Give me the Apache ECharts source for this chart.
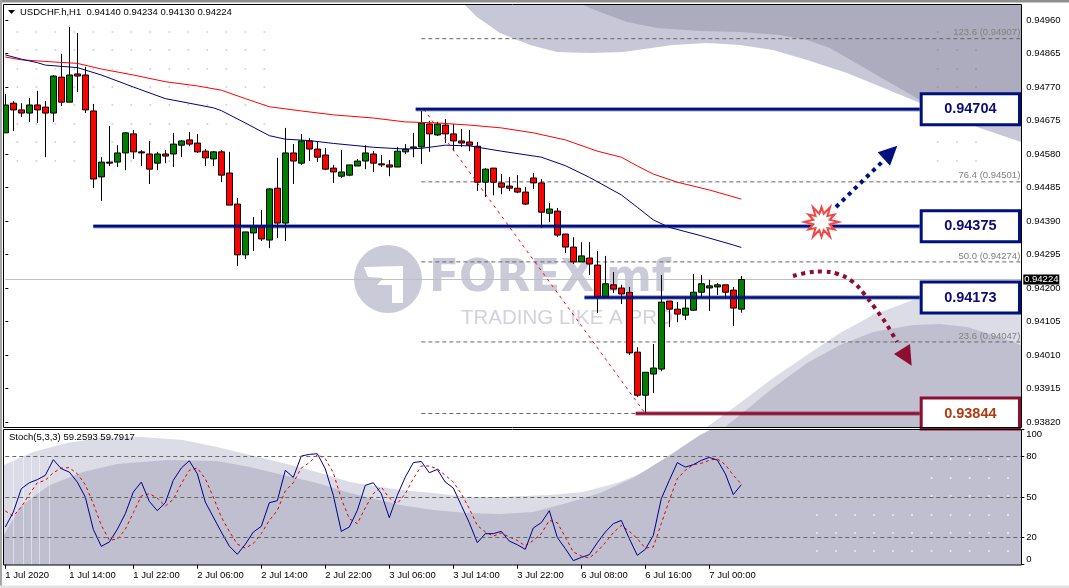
<!DOCTYPE html>
<html><head><meta charset="utf-8">
<style>html,body{margin:0;padding:0;background:#fff}#c{width:1069px;height:588px}</style>
<script src="https://cdn.jsdelivr.net/npm/echarts@6/dist/echarts.min.js"></script>
</head><body><div id="c"></div>
<script>
const opens=[.94640,.94724,.94705,.94696,.94719,.94713,.94696,.94798,.94727,.94807,.94804,.94702,.94515,.94557,.94557,.94583,.94637,.94586,.94580,.94554,.94580,.94580,.94605,.94620,.94611,.94588,.94566,.94586,.94526,.94438,.94294,.94356,.94373,.94336,.94483,.94384,.94583,.94554,.94617,.94594,.94577,.94540,.94517,.94520,.94546,.94560,.94580,.94552,.94549,.94543,.94586,.94597,.94600,.94665,.94634,.94662,.94637,.94617,.94614,.94602,.94500,.94540,.94498,.94489,.94483,.94472,.94512,.94498,.94412,.94418,.94353,.94316,.94274,.94285,.94265,.94175,.94209,.94200,.94188,.94018,.93896,.93956,.93970,.94163,.94140,.94123,.94137,.94188,.94200,.94203,.94209,.94194,.94140];
const highs=[.94750,.94730,.94724,.94739,.94759,.94730,.94804,.94864,.94940,.94923,.94827,.94722,.94571,.94659,.94605,.94642,.94648,.94591,.94617,.94586,.94591,.94640,.94620,.94642,.94637,.94594,.94588,.94591,.94586,.94455,.94359,.94401,.94421,.94483,.94569,.94654,.94608,.94637,.94625,.94617,.94597,.94549,.94591,.94549,.94566,.94605,.94588,.94577,.94563,.94600,.94608,.94640,.94702,.94674,.94671,.94679,.94665,.94651,.94648,.94614,.94540,.94540,.94523,.94515,.94520,.94486,.94526,.94509,.94441,.94427,.94353,.94344,.94330,.94330,.94305,.94291,.94245,.94209,.94203,.94032,.93961,.94041,.94237,.94163,.94160,.94172,.94240,.94237,.94223,.94214,.94209,.94203,.94234];
const lows=[.94640,.94645,.94685,.94671,.94668,.94571,.94671,.94716,.94727,.94756,.94696,.94483,.94447,.94546,.94543,.94534,.94566,.94546,.94495,.94534,.94554,.94543,.94571,.94602,.94583,.94546,.94546,.94500,.94435,.94262,.94282,.94305,.94333,.94313,.94342,.94333,.94495,.94549,.94560,.94557,.94534,.94498,.94512,.94517,.94546,.94537,.94529,.94543,.94517,.94543,.94580,.94571,.94552,.94586,.94631,.94611,.94588,.94600,.94588,.94475,.94458,.94463,.94466,.94475,.94469,.94435,.94481,.94370,.94387,.94344,.94299,.94268,.94274,.94237,.94129,.94175,.94186,.94155,.94010,.93891,.93844,.93902,.93964,.94089,.94103,.94109,.94135,.94175,.94135,.94180,.94169,.94092,.94130];
const closes=[.94719,.94705,.94696,.94719,.94705,.94696,.94801,.94727,.94804,.94801,.94705,.94509,.94557,.94554,.94583,.94640,.94586,.94583,.94537,.94580,.94574,.94608,.94617,.94608,.94586,.94569,.94586,.94520,.94435,.94294,.94359,.94373,.94339,.94481,.94384,.94583,.94560,.94617,.94594,.94571,.94537,.94529,.94529,.94549,.94560,.94583,.94554,.94549,.94543,.94588,.94594,.94600,.94668,.94637,.94665,.94637,.94617,.94611,.94605,.94500,.94537,.94500,.94486,.94483,.94472,.94438,.94498,.94415,.94424,.94350,.94316,.94274,.94291,.94268,.94175,.94212,.94197,.94183,.94016,.93896,.93961,.93973,.94160,.94140,.94126,.94143,.94188,.94212,.94206,.94209,.94188,.94143,.94224];
const redMaIdx=[0,2,6,9,12,16,20,24,27,30,33,37,41,46,50,54,58,62,66,70,74,77,79,81,84,88,92];
const redMa=[.94855,.94847,.94841,.94837,.94821,.94804,.94785,.94773,.94761,.94737,.94714,.94702,.94691,.94682,.94671,.94668,.94662,.94654,.94640,.94620,.94588,.94571,.94546,.94523,.94500,.94478,.94452];
const blueMaIdx=[0,2,4,5,9,12,16,20,26,27,30,33,35,38,41,46,50,52,55,58,62,67,70,73,77,79,81,83,87,91,92];
const blueMa=[.94861,.94849,.94839,.94832,.94825,.94804,.94770,.94737,.94711,.94703,.94668,.94632,.94622,.94618,.94610,.94599,.94594,.94596,.94605,.94603,.94588,.94571,.94547,.94514,.94464,.94429,.94393,.94372,.94348,.94322,.94315];
const stochMain=[27.9,39,56.3,60.7,63,66.2,77.8,71.1,68.6,61.2,50.1,26.2,13.6,16.8,26.2,37.8,53.8,61.2,46.9,40,45.9,62.5,71.6,77,67.4,46.4,35.3,24.2,13.8,7.7,15.1,24.2,28.4,45.9,47.4,69.9,64.7,80.5,81.7,82.2,71.1,51.4,24.7,27.9,40.2,58.8,60.7,52.6,34.8,51.4,64.9,75.6,76.5,68.1,70.6,61.2,56.8,43.9,31.1,16.3,23,23,24.7,17.5,14.8,11.4,27.2,31.1,40,20.2,11.9,3,5.4,7.4,16.3,24.2,30.4,32.8,19.3,6.9,11.4,21.7,48.9,62.5,75.6,72.3,74.1,77.3,79.5,77.5,67.4,51.9,59.26];
const stochSignal=[39.8,36,42.7,52.1,60.7,62.5,68.1,71.6,71.9,67.4,59.3,45.2,29.1,18.3,18.8,26.2,38.5,50.9,52.6,49.4,43.5,48.4,60,69.9,71.6,63.7,50.1,35.3,24.7,15.3,12.3,15.6,23,32.8,40.2,54.6,60.7,71.6,75.6,81.5,78.5,68.1,48.9,34.1,30.4,42.2,52.6,57.5,49.4,45.2,52.6,63.7,73.1,73.1,71.1,66.2,61.2,52.6,41.5,29.1,24.2,21.2,23.5,20.5,18,13.8,18,23,32.8,31.1,20.5,9.4,6.4,4.9,9.9,16.3,23.7,29.1,24.7,19.3,12.3,13.1,30.4,47.7,63.7,69.9,74.1,75.1,77.3,78.5,74.1,66.2,59.79];
const priceTicks=[.9496,.94865,.9477,.94675,.9458,.94485,.9439,.94295,.942,.94105,.9401,.93915,.9382];
const stochTicks=[0,20,50,80,100];
const stochLevels=[80,50,20];
const dateLabels=['1 Jul 2020','1 Jul 14:00','1 Jul 22:00','2 Jul 06:00','2 Jul 14:00','2 Jul 22:00','3 Jul 06:00','3 Jul 14:00','3 Jul 22:00','6 Jul 08:00','6 Jul 16:00','7 Jul 00:00'];
const fibValues=[.94907,.94501,.94274,.94047,.93844];
const fibLabels=['123.6 (0.94907)','76.4 (0.94501)','50.0 (0.94274)','23.6 (0.94047)',''];
const fibEnds=[127,127,127,127,78.8];
const levelValues=[.94707,.94375,.94173,.93844];
const levelLabels=['0.94704','0.94375','0.94173','0.93844'];
const levelStarts=[51.3,11,72.4,78.8];
const lastPrice=.94224;

const FONT='"Liberation Sans",Arial,sans-serif';
const cats=opens.map((_,i)=>String(i));
for(let i=opens.length;i<128;i++)cats.push(String(i));
const ohlc=opens.map((o,i)=>[o,closes[i],lows[i],highs[i]]);

const NAVY='#00107c',WINE='#8c0f32',WM='#cacad9';
const LT='#c8c7d7',DT='#adacbf',LB='#dcdce6',DB='#c0bfcf';
const poly=(pts,fill,z)=>({type:'polygon',silent:true,z:z||-9,shape:{points:pts},style:{fill}});
const g=[];
g.push({type:'rect',silent:true,z:-10,shape:{x:0,y:0,width:1069,height:588},style:{fill:'#fff'}});
g.push(poly([[465,5],[477,17],[500,33],[530,45],[557,52],[590,53],[623,52],[673,45],[707,43],[740,45],[773,50],[807,60],[847,73],[913,100],[980,128],[1021,142],[1021,5]],LT));
g.push(poly([[583,5],[600,12],[627,22],[657,28],[700,31],[740,32],[780,35],[807,40],[830,48],[880,77],[920,100],[980,113],[1021,125],[1021,5]],DT));
g.push(poly([[707,427],[740,403],[773,378],[807,355],[840,333],[873,315],[913,300],[950,295],[1021,305],[1021,427]],LB));
g.push(poly([[725,427],[740,415],[773,388],[807,363],[840,345],[873,332],[913,325],[940,324],[967,327],[993,335],[1021,345],[1021,427]],DB));
g.push(poly([[4,465],[33,452],[67,443],[100,438],[140,437],[183,440],[217,447],[250,455],[283,463],[317,472],[350,482],[400,490],[433,493],[467,497],[500,497],[550,495],[583,492],[617,483],[650,470],[683,450],[725,429],[1021,429],[1021,565],[4,565]],LB));
g.push(poly([[4,535],[20,507],[33,497],[50,485],[83,472],[117,464],[167,460],[217,461],[250,467],[283,475],[317,483],[350,493],[400,505],[433,510],[467,513],[500,514],[533,512],[567,503],[600,493],[633,478],[667,457],[700,435],[712,429],[1021,429],[1021,565],[4,565]],DB));
[13,23,31,39,49].forEach(x=>g.push({type:'rect',silent:true,z:-8,shape:{x,y:455,width:1,height:110},style:{fill:'rgba(255,255,255,.45)'}}));
const dot=(x,y,f)=>g.push({type:'circle',silent:true,z:-8,shape:{cx:x,cy:y,r:1},style:{fill:f}});
[32,50,69,87,105,124,142,161].forEach((y,r)=>{for(let c=0;c<14;c++){if(r>5&&c>8)continue;dot(17.3+19*c,y,'#d2d2de');}});
dot(937.7,32,'#98989f');
[50,69,87].forEach(y=>[937.7,957,976].forEach(x=>dot(x,y,'#98989f')));
[142,161].forEach(y=>[937.7,957,976].forEach(x=>dot(x,y,'#d2d2de')));
[459,478,496].forEach(y=>[931.7,950.7,969.7,989,1008].forEach(x=>dot(x,y,'#eeeef4')));
[515,533,551].forEach(y=>[817,836,855,874,893,912,931.7,950.7,969.7,989,1008].forEach(x=>dot(x,y,'#eeeef4')));
g.push({type:'circle',silent:true,z:-7,shape:{cx:388,cy:279,r:34},style:{fill:WM}});
g.push(poly([[364,267],[403,266],[403,303],[392,303],[392,285],[377,285],[383,278],[368,277]],'#fff',-6));
g.push({type:'text',silent:true,z:-7,x:429,y:258,style:{text:'FOREX',font:'bold 44px "DejaVu Sans"',fill:WM}});
g.push({type:'text',silent:true,z:-7,x:606,y:258,style:{text:'mf',font:'bold 44px "DejaVu Sans"',fill:WM}});
g.push({type:'text',silent:true,z:-7,x:461,y:308,style:{text:'TRADING LIKE A PRO',font:'20.5px "Liberation Sans"',fill:'#d2d2de'}});
g.push({type:'rect',silent:true,z:40,shape:{x:0,y:0,width:3.5,height:588},style:{fill:'#fff'}});
g.push({type:'rect',silent:true,z:41,shape:{x:0,y:0,width:1069,height:2.5},style:{fill:'#8f8f8f'}});
g.push({type:'rect',silent:true,z:41,shape:{x:0,y:0,width:2,height:588},style:{fill:'#a6a6a6'}});
g.push({type:'rect',silent:true,z:41,shape:{x:0,y:585.5,width:1069,height:2.5},style:{fill:'#e2e2e2'}});
g.push({type:'rect',silent:true,z:42,shape:{x:3.5,y:4.5,width:1018,height:423},style:{fill:'none',stroke:'#000',lineWidth:1}});
g.push({type:'rect',silent:true,z:42,shape:{x:3.5,y:429.5,width:1018,height:135.5},style:{fill:'none',stroke:'#000',lineWidth:1}});
g.push({type:'polygon',silent:true,z:43,shape:{points:[[8,10],[15,10],[11.5,14]]},style:{fill:'#000'}});
g.push({type:'text',silent:true,z:43,x:20,y:7,style:{text:'USDCHF.h,H1  0.94140 0.94234 0.94130 0.94224',font:'9.5px '+FONT,fill:'#000'}});
g.push({type:'text',silent:true,z:43,x:9,y:432,style:{text:'Stoch(5,3,3) 59.2593 59.7917',font:'9.5px '+FONT,fill:'#000'}});
const star=[];for(let i=0;i<24;i++){const a=i*Math.PI/12,r=i%2?8.5:(i%4?15:17);star.push([821.5+r*Math.cos(a),222+r*Math.sin(a)]);}
g.push({type:'polygon',silent:true,z:30,shape:{points:star},style:{fill:'#fff',stroke:'#f44545',lineWidth:2}});
g.push({type:'polyline',silent:true,z:30,shape:{points:[[836,207],[882,162]]},style:{stroke:'#00107c',lineWidth:4,lineDash:[4,4.5],fill:'none'}});
g.push(poly([[897.3,145.7],[877.7,152.3],[890,165.7]],'#00107c',30));
g.push({type:'polyline',silent:true,z:30,shape:{smooth:.4,points:[[793,276],[808,272.5],[823,271.5],[838,274],[853,282],[865,295],[875,308],[887,325],[897,342]]},style:{stroke:WINE,lineWidth:4,lineDash:[4,4.5],fill:'none'}});
g.push(poly([[911.7,365.7],[894,354],[910,344]],WINE,30));

const fibData=fibValues.map((v,i)=>[52,fibEnds[i],v,i]);
const levelData=levelValues.map((v,i)=>[levelStarts[i],114.3,v,i]);

function fibItem(p,api){
  const a=api.coord([api.value(0),api.value(2)]),b=api.coord([api.value(1),api.value(2)]);
  const kids=[{type:'line',shape:{x1:a[0],y1:a[1],x2:b[0],y2:b[1]},style:{stroke:'#666',lineWidth:1,lineDash:[4,3]}}];
  const t=fibLabels[api.value(3)];
  if(t)kids.push({type:'text',x:b[0]-1,y:a[1]-1,style:{text:t,align:'right',verticalAlign:'bottom',font:'9.5px '+FONT,fill:'#808080'}});
  return {type:'group',children:kids};
}
function levelItem(p,api){
  const i=api.value(3),a=api.coord([api.value(0),api.value(2)]),b=api.coord([api.value(1),api.value(2)]);
  const red=i===3,c=red?WINE:NAVY,right=1021;
  const cy=a[1];
  return {type:'group',children:[
    {type:'line',shape:{x1:a[0],y1:cy,x2:b[0],y2:cy},style:{stroke:red?'rgba(140,15,50,.45)':'rgba(0,16,124,.4)',lineWidth:4.5}},
    {type:'line',shape:{x1:a[0],y1:cy,x2:b[0],y2:cy},style:{stroke:c,lineWidth:2.5}},
    {type:'rect',shape:{x:b[0]+1.5,y:cy-15.5,width:right-b[0]-3,height:31},style:{fill:'#fff',stroke:c,lineWidth:3}},
    {type:'text',x:(b[0]+right)/2,y:cy,style:{text:levelLabels[i],align:'center',verticalAlign:'middle',font:'bold 14.5px '+FONT,fill:red?'#ad3a10':'#0b0b78'}}
  ]};
}
function lastItem(p,api){
  const a=api.coord([0,api.value(1)]),b=api.coord([127,api.value(1)]);
  return {type:'group',children:[
    {type:'line',shape:{x1:a[0],y1:a[1],x2:b[0],y2:b[1]},style:{stroke:'#c0c0c0',lineWidth:1}}
  ]};
}
function lastTag(p,api){
  const b=api.coord([127,api.value(1)]);
  return {type:'group',children:[
    {type:'rect',shape:{x:b[0]+2,y:b[1]-5,width:36,height:10},style:{fill:'#000'}},
    {type:'text',x:b[0]+20,y:b[1],style:{text:lastPrice.toFixed(5),align:'center',verticalAlign:'middle',font:'9.5px '+FONT,fill:'#fff'}}
  ]};
}

const chart=echarts.init(document.getElementById('c'),null,{renderer:'canvas'});
chart.setOption({
  animation:false,
  backgroundColor:'#fff',
  textStyle:{fontFamily:FONT},
  graphic:{elements:g},
  tooltip:{show:false},
  grid:[
    {left:5.3,top:5,width:1016,height:422},
    {left:5.3,top:429.7,width:1016,height:135}
  ],
  xAxis:[
    {type:'category',gridIndex:0,data:cats,boundaryGap:false,axisLine:{show:false},axisTick:{show:false},axisLabel:{show:false},splitLine:{show:false}},
    {type:'category',gridIndex:1,data:cats,boundaryGap:false,axisLine:{show:false},
      axisTick:{show:true,length:4,interval:i=>i%8===0&&i<=88,lineStyle:{color:'#000'}},
      axisLabel:{show:true,color:'#000',fontSize:9.5,fontFamily:FONT,align:'left',margin:6,hideOverlap:false,showMinLabel:true,
        interval:i=>i%8===0&&i<=88,formatter:v=>dateLabels[+v/8]||''},splitLine:{show:false}},
    {type:'value',gridIndex:0,position:'top',min:0,max:127,show:false,splitLine:{show:false}}
  ],
  yAxis:[
    {type:'value',gridIndex:0,position:'right',min:.938058,max:.950025,
      axisLine:{show:false},
      axisTick:{show:true,length:3,customValues:priceTicks,lineStyle:{color:'#000'}},
      axisLabel:{show:true,customValues:priceTicks,margin:5,color:'#000',fontSize:9.5,fontFamily:FONT,formatter:v=>v.toFixed(5)},
      splitLine:{show:false}},
    {type:'value',gridIndex:1,position:'right',min:0,max:100,
      axisLine:{show:false},
      axisTick:{show:true,length:3,customValues:stochTicks,lineStyle:{color:'#000'}},
      axisLabel:{show:true,customValues:stochTicks,margin:5,color:'#000',fontSize:9.5,fontFamily:FONT,verticalAlignMinLabel:'bottom',verticalAlignMaxLabel:'top',showMinLabel:true,showMaxLabel:true},
      splitLine:{show:false}}
  ],
  series:[
    {type:'custom',name:'last',xAxisIndex:2,yAxisIndex:0,z:1,renderItem:lastItem,data:[[0,lastPrice]],encode:{x:0,y:1},silent:true},
    {type:'custom',name:'fib',xAxisIndex:2,yAxisIndex:0,z:1,renderItem:fibItem,data:fibData,encode:{x:[0,1],y:2},silent:true},
    {type:'candlestick',name:'USDCHF',xAxisIndex:0,yAxisIndex:0,z:3,clip:false,barWidth:6,data:ohlc,silent:true,
      itemStyle:{color:'#008000',color0:'#ff0000',borderColor:'#000',borderColor0:'#000',borderColorDoji:'#000',borderWidth:1}},
    {type:'line',name:'MA red',xAxisIndex:2,yAxisIndex:0,z:4,showSymbol:false,silent:true,lineStyle:{color:'#ff0000',width:1},data:redMa.map((v,i)=>[redMaIdx[i],v])},
    {type:'line',name:'MA blue',xAxisIndex:2,yAxisIndex:0,z:4,showSymbol:false,silent:true,lineStyle:{color:'#000080',width:1},data:blueMa.map((v,i)=>[blueMaIdx[i],v])},
    {type:'line',name:'Fib trend',xAxisIndex:2,yAxisIndex:0,z:5,showSymbol:false,silent:true,lineStyle:{color:'#ff0000',width:1,type:[3,4]},data:[[52.3,levelValues[0]],[80,levelValues[3]]]},
    {type:'custom',name:'levels',xAxisIndex:2,yAxisIndex:0,z:6,renderItem:levelItem,data:levelData,encode:{x:[0,1],y:2},silent:true},
    {type:'custom',name:'lastTag',xAxisIndex:2,yAxisIndex:0,z:7,renderItem:lastTag,data:[[0,lastPrice]],encode:{x:0,y:1},silent:true},
    {type:'line',name:'Stoch signal',xAxisIndex:1,yAxisIndex:1,z:3,showSymbol:false,silent:true,lineStyle:{color:'#e00000',width:1,type:[3,3]},data:stochSignal},
    {type:'line',name:'Stoch main',xAxisIndex:1,yAxisIndex:1,z:4,showSymbol:false,silent:true,lineStyle:{color:'#00008b',width:1},data:stochMain,
      markLine:{silent:true,symbol:'none',label:{show:false},lineStyle:{color:'#666',type:[4,3],width:1},data:stochLevels.map(v=>({yAxis:v}))}}
  ]
});
</script></body></html>
